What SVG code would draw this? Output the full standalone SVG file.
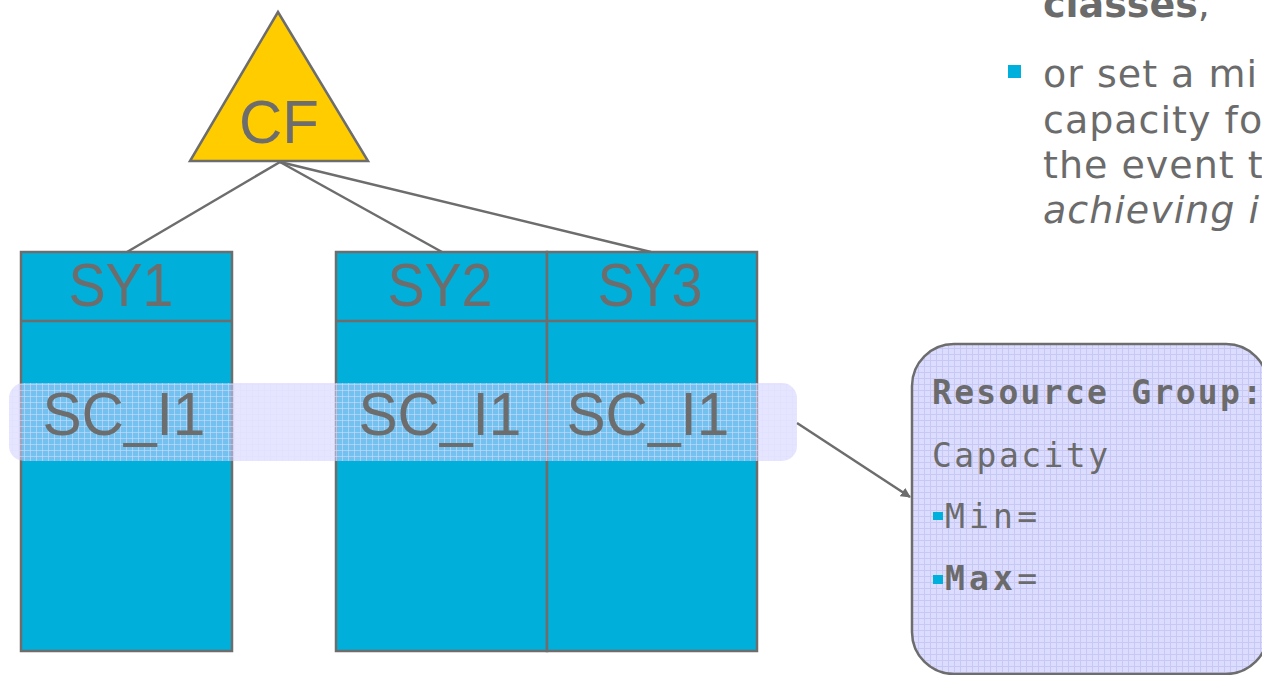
<svg xmlns="http://www.w3.org/2000/svg" width="1262" height="675" viewBox="0 0 1262 675">
<style>
.box{fill:#00b0da;stroke:#6d6d6d;stroke-width:2.5}
.big{font-family:"Liberation Sans",Arial,sans-serif;font-size:62px;fill:#6d6d6d;text-anchor:middle}
.mono{font-family:"DejaVu Sans Mono","Liberation Mono",monospace;font-size:33px;fill:#6b6b6b}
.body{font-family:"DejaVu Sans","Open Sans",sans-serif;font-size:38px;fill:#6b6b6b}
.conn{stroke:#6d6d6d;stroke-width:2.5;fill:none}
.bullet{fill:#00b0dc}
</style>
<defs>
<pattern id="grid" width="6" height="6" patternUnits="userSpaceOnUse">
<rect width="6" height="6" fill="#dcdcff"/>
<path d="M0 0.5H6M0.5 0V6" stroke="#c8c8f4" stroke-width="1"/>
</pattern>
<pattern id="gridT" width="6" height="6" patternUnits="userSpaceOnUse">
<rect width="6" height="6" fill="#d0d0ff" fill-opacity="0.55"/>
<path d="M0 0.5H6M0.5 0V6" stroke="#e0e0ff" stroke-opacity="0.5" stroke-width="1"/>
</pattern>
<marker id="arrow" markerWidth="10" markerHeight="10" refX="9" refY="5" orient="auto" markerUnits="userSpaceOnUse" viewBox="0 0 10 10">
<path d="M0 0L10 5L0 10z" fill="#6d6d6d"/>
</marker>
</defs>

<g id="connectors">
<line class="conn" x1="280" y1="162" x2="127" y2="252"/>
<line class="conn" x1="280" y1="162" x2="442" y2="252"/>
<line class="conn" x1="280" y1="162" x2="651" y2="252"/>
<line class="conn" x1="797" y1="423" x2="910" y2="497" marker-end="url(#arrow)"/>
</g>

<g id="cf">
<polygon points="278,12 190,161 368,161" fill="#ffcc00" stroke="#6d6d6d" stroke-width="2.5"/>
<text class="big" x="279" y="143" textLength="80" lengthAdjust="spacingAndGlyphs">CF</text>
</g>

<g id="sy1">
<rect class="box" x="21" y="252" width="211" height="399"/>
<line class="conn" x1="21" y1="321" x2="232" y2="321"/>
<text class="big" x="121" y="306" textLength="105" lengthAdjust="spacingAndGlyphs">SY1</text>
</g>

<g id="sy2">
<rect class="box" x="336" y="252" width="211" height="399"/>
<line class="conn" x1="336" y1="321" x2="547" y2="321"/>
<text class="big" x="440" y="306" textLength="105" lengthAdjust="spacingAndGlyphs">SY2</text>
</g>

<g id="sy3">
<rect class="box" x="547" y="252" width="210" height="399"/>
<line class="conn" x1="547" y1="321" x2="757" y2="321"/>
<text class="big" x="650" y="306" textLength="105" lengthAdjust="spacingAndGlyphs">SY3</text>
</g>

<g id="service-class-band">
<rect x="9" y="383" width="788" height="78" rx="15" fill="url(#gridT)"/>
<text class="big" x="124" y="435" textLength="163" lengthAdjust="spacingAndGlyphs">SC_I1</text>
<text class="big" x="440" y="435" textLength="163" lengthAdjust="spacingAndGlyphs">SC_I1</text>
<text class="big" x="648" y="435" textLength="163" lengthAdjust="spacingAndGlyphs">SC_I1</text>
</g>

<g id="resource-group">
<rect x="912" y="344" width="356" height="330" rx="42" fill="url(#grid)" stroke="#6d6d6d" stroke-width="2.5"/>
<text class="mono" x="932" y="404" font-weight="bold" textLength="330" lengthAdjust="spacing">Resource Group:</text>
<text class="mono" x="932" y="467" textLength="176" lengthAdjust="spacing">Capacity</text>
<rect class="bullet" x="933" y="512" width="10" height="8"/>
<text class="mono" x="945" y="528" textLength="92" lengthAdjust="spacing">Min=</text>
<rect class="bullet" x="933" y="575" width="10" height="9"/>
<text class="mono" x="945" y="590" textLength="92" lengthAdjust="spacing"><tspan font-weight="bold">Max</tspan>=</text>
</g>

<g id="bullet-text">
<text class="body" x="1043" y="17" font-weight="bold">classes<tspan font-weight="normal">,</tspan></text>
<rect class="bullet" x="1008" y="65" width="13" height="13"/>
<text class="body" x="1043" y="87" letter-spacing="1">or set a mi</text>
<text class="body" x="1043" y="133" letter-spacing="1">capacity fo</text>
<text class="body" x="1043" y="178" letter-spacing="1">the event t</text>
<text class="body" x="1043" y="223" letter-spacing="1" font-style="italic">achieving i</text>
</g>
</svg>
